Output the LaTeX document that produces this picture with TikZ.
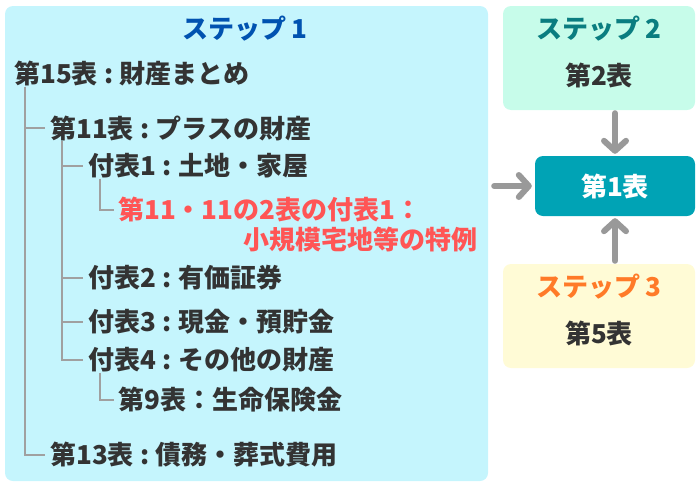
\documentclass[tikz,border=0pt]{standalone}
\usepackage{fontspec}
\setmainfont{Noto Sans CJK JP}
\usetikzlibrary{arrows.meta}

\definecolor{bgone}{RGB}{197,245,253}
\definecolor{bgtwo}{RGB}{199,252,234}
\definecolor{bgthree}{RGB}{255,251,214}
\definecolor{mainbox}{RGB}{0,163,181}
\definecolor{txt}{RGB}{51,51,51}
\definecolor{hl}{RGB}{255,85,85}
\definecolor{blueone}{RGB}{0,82,176}
\definecolor{tealtwo}{RGB}{10,125,128}
\definecolor{orthree}{RGB}{255,122,40}
\definecolor{linegray}{RGB}{160,160,160}
\definecolor{arrgray}{RGB}{153,153,153}

\begin{document}
\begin{tikzpicture}[x=1pt, y=-1pt,
		box/.style = {rectangle, rounded corners=8, inner sep=0},
		t/.style = {anchor=west, inner sep=0, text=txt, font=\fontsize{26}{30}\selectfont\bfseries},
		ttl/.style = {inner sep=0, font=\fontsize{26}{30}\selectfont\bfseries},
		tree/.style = {draw=linegray, line width=2},
		ar/.style = {-{Straight Barb[length=10, width=22, round]}, draw=arrgray, line width=6, line cap=round}
		]
		\useasboundingbox (0,0) rectangle (700,490);
		
		%Boxes
		\node[box, fill=bgone, minimum width=483, minimum height=475]	(s1)	at	(246.5, 243.5)	{};
		\node[box, fill=bgtwo, minimum width=192, minimum height=104]	(s2)	at	(599, 58)	{};
		\node[box, fill=mainbox, minimum width=160, minimum height=60]	(m1)	at	(615, 186)	{};
		\node[box, fill=bgthree, minimum width=192, minimum height=104]	(s3)	at	(599, 316)	{};
		
		%Titles
		\node[ttl, text=blueone]	(h1)	at	(245, 29)	{ステップ\hspace{.2em}1};
		\node[ttl, text=tealtwo]	(h2)	at	(599, 29)	{ステップ\hspace{.2em}2};
		\node[ttl, text=orthree]	(h3)	at	(599, 287)	{ステップ\hspace{.2em}3};
		\node[ttl, text=txt]	(b2)	at	(599, 75)	{第2表};
		\node[ttl, text=txt]	(b5)	at	(599, 333)	{第5表};
		\node[ttl, text=white]	(b1)	at	(615, 186)	{第1表};
		
		%Tree nodes
		\node[t]	(t15)	at	(14, 74)	{第15表\hspace{.25em}:\hspace{.25em}財産まとめ};
		\node[t]	(t11)	at	(50, 128)	{第11表\hspace{.25em}:\hspace{.25em}プラスの財産};
		\node[t]	(f1)	at	(88, 166)	{付表1\hspace{.25em}:\hspace{.25em}土地・家屋};
		\node[t, text=hl]	(sp1)	at	(118, 210)	{第11・11の2表の付表1：};
		\node[t, text=hl, anchor=east]	(sp2)	at	(478, 240)	{小規模宅地等の特例};
		\node[t]	(f2)	at	(88, 278)	{付表2\hspace{.25em}:\hspace{.25em}有価証券};
		\node[t]	(f3)	at	(88, 322)	{付表3\hspace{.25em}:\hspace{.25em}現金・預貯金};
		\node[t]	(f4)	at	(88, 360)	{付表4\hspace{.25em}:\hspace{.25em}その他の財産};
		\node[t]	(t9)	at	(118, 400)	{第9表：生命保険金};
		\node[t]	(t13)	at	(50, 455)	{第13表\hspace{.25em}:\hspace{.25em}債務・葬式費用};
		
		%Tree lines
		\draw[tree]	([xshift=11]t15.south west)	|-	([xshift=-5]t11.west);
		\draw[tree]	([xshift=11]t15.south west)	|-	([xshift=-5]t13.west);
		\foreach \c in {f1, f2, f3, f4}
			\draw[tree]	([xshift=12]t11.south west)	|-	([xshift=-5]\c.west);
		\draw[tree]	([xshift=12]f1.south west)	|-	([xshift=-4]sp1.west);
		\draw[tree]	([xshift=12]f4.south west)	|-	([xshift=-4]t9.west);
		
		%Arrows
		\draw[ar]	(m1.north |- s2.south)	++(0,3)	--	([yshift=2]m1.north);
		\draw[ar]	(m1.south |- s3.north)	++(0,-3)	--	([yshift=-2]m1.south);
		\draw[ar]	(s1.east |- m1.west)	++(6,0)	--	([xshift=-3]m1.west);
	\end{tikzpicture}
\end{document}
